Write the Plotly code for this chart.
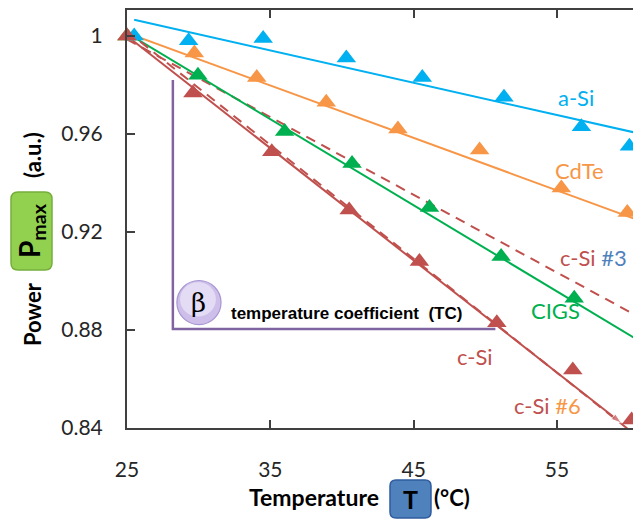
import plotly.graph_objects as go

# ---- measured module output vs. temperature (normalised Pmax) ----
T_asi = [25.5, 29.3, 34.5, 40.3, 45.6, 51.3, 56.7, 60.05]
P_asi = [1.000, 0.998, 0.999, 0.991, 0.983, 0.975, 0.963, 0.955]

T_cdte = [25.0, 29.7, 34.05, 38.9, 43.9, 49.6, 55.3, 59.9]
P_cdte = [1.000, 0.993, 0.983, 0.973, 0.962, 0.9535, 0.938, 0.928]

T_cigs = [25.0, 29.95, 36.0, 40.7, 46.1, 51.1, 56.2]
P_cigs = [1.000, 0.984, 0.961, 0.948, 0.930, 0.910, 0.893]

T_csi = [25.0, 29.6, 35.1, 40.5, 45.4, 50.8, 56.1, 60.2]
P_csi = [1.000, 0.9767, 0.9527, 0.929, 0.908, 0.883, 0.8637, 0.8433]

# ---- linear trend lines (end points) ----
fit_asi_T, fit_asi_P = [25.5, 60.5], [1.0066, 0.9605]
fit_cdte_T, fit_cdte_P = [25.0, 60.5], [1.0012, 0.9252]
fit_cigs_T, fit_cigs_P = [25.0, 60.5], [1.0012, 0.8764]
fit_csi_T, fit_csi_P = [25.0, 59.5], [1.000, 0.842]
fit_csi3_T, fit_csi3_P = [25.0, 60.5], [0.9986, 0.886]
fit_csi6_T, fit_csi6_P = [25.0, 60.5], [1.002, 0.837]

# temperature-coefficient bracket
tc_T = [28.2, 28.2, 50.7]
tc_P = [0.982, 0.8804, 0.8804]

x_ticks = [25, 35, 45, 55]
y_ticks = [0.84, 0.88, 0.92, 0.96, 1.0]
y_tick_text = ["0.84", "0.88", "0.92", "0.96", "1"]

C_ASI = "#00B0F0"
C_CDTE = "#F79646"
C_CIGS = "#00B050"
C_CSI = "#C0504D"
C_BLUE = "#4F81BD"
C_PURPLE = "#8064A2"
AXIS = "#404040"

W, H = 633, 520
ML, MR, MT, MB = 127, 0, 10, 92
PW, PH = W - ML - MR, H - MT - MB


def px(x):
    return (x - ML) / PW


def py(y):
    return (H - MB - y) / PH


def rounded_rect(x0, y0, x1, y1, r):
    """Rounded rectangle path in paper units from pixel corners."""
    X0, X1 = px(x0), px(x1)
    Y0, Y1 = py(y1), py(y0)  # Y0 bottom, Y1 top
    rx, ry = r / PW, r / PH
    return (f"M{X0+rx},{Y0} L{X1-rx},{Y0} Q{X1},{Y0} {X1},{Y0+ry} "
            f"L{X1},{Y1-ry} Q{X1},{Y1} {X1-rx},{Y1} L{X0+rx},{Y1} "
            f"Q{X0},{Y1} {X0},{Y1-ry} L{X0},{Y0+ry} Q{X0},{Y0} {X0+rx},{Y0} Z")


fig = go.Figure()

# trend lines
fig.add_trace(go.Scatter(x=fit_asi_T, y=fit_asi_P, mode="lines",
                         line=dict(color=C_ASI, width=2)))
fig.add_trace(go.Scatter(x=fit_cdte_T, y=fit_cdte_P, mode="lines",
                         line=dict(color=C_CDTE, width=2)))
fig.add_trace(go.Scatter(x=fit_csi3_T, y=fit_csi3_P, mode="lines",
                         line=dict(color=C_CSI, width=2, dash="10px,7px")))
fig.add_trace(go.Scatter(x=fit_cigs_T, y=fit_cigs_P, mode="lines",
                         line=dict(color=C_CIGS, width=2)))
fig.add_trace(go.Scatter(x=fit_csi6_T, y=fit_csi6_P, mode="lines",
                         line=dict(color=C_CSI, width=2, dash="10px,7px")))
fig.add_trace(go.Scatter(x=fit_csi_T, y=fit_csi_P, mode="lines+markers",
                         line=dict(color=C_CSI, width=2),
                         marker=dict(symbol="arrow", angleref="previous",
                                     size=[0, 11], color=C_CSI),
                         cliponaxis=False))

# temperature coefficient bracket
fig.add_trace(go.Scatter(x=tc_T, y=tc_P, mode="lines",
                         line=dict(color=C_PURPLE, width=2.5)))

# measured points
for T, P, c in [(T_cigs, P_cigs, C_CIGS), (T_cdte, P_cdte, C_CDTE),
                (T_asi, P_asi, C_ASI), (T_csi, P_csi, C_CSI)]:
    fig.add_trace(go.Scatter(x=T, y=P, mode="markers", cliponaxis=False,
                             marker=dict(symbol="triangle-up", size=17,
                                         color=c, line=dict(width=0))))

lab_font = "Lato, Open Sans, sans-serif"
ann = []


def label(x, y, text, color, size=22, xanchor="center"):
    ann.append(dict(x=x, y=y, xref="x", yref="y", text=text, showarrow=False,
                    xanchor=xanchor, yanchor="middle",
                    font=dict(family=lab_font, size=size, color=color)))


def paper_text(x, y, text, size, angle=0):
    ann.append(dict(x=px(x), y=py(y), xref="paper", yref="paper",
                    text=text, textangle=angle, showarrow=False,
                    xanchor="center", yanchor="middle",
                    font=dict(family=lab_font, size=size, color="black")))


label(56.3, 0.9747, "a-Si", C_ASI)
label(56.6, 0.9453, "CdTe", C_CDTE)
label(55.1, 0.9094, f"c-Si <span style='color:{C_BLUE}'>#3</span>", C_CSI,
      xanchor="left")
label(54.9, 0.8878, "CIGS", C_CIGS)
label(49.25, 0.869, "c-Si", C_CSI)
label(54.35, 0.849, f"c-Si <span style='color:{C_CDTE}'>#6</span>", C_CSI)

# beta badge + text
ann.append(dict(x=30.02, y=0.8912, xref="x", yref="y", text="β",
                showarrow=False, xanchor="center", yanchor="middle",
                font=dict(family="DejaVu Serif", size=26, color="black")))
ann.append(dict(x=32.1, y=0.8868, xref="x", yref="y",
                text="<b>temperature coefficient  (TC)</b>", showarrow=False,
                xanchor="left", yanchor="middle",
                font=dict(family="Liberation Sans, Arial", size=17,
                          color="black")))

# y axis title pieces
paper_text(32, 314, "<b>Power</b>", 22, -90)
paper_text(31, 231, "<b>P<sub>max</sub></b>", 28, -90)
paper_text(32, 155, "<b>(a.u.)</b>", 22, -90)

# x axis title pieces
paper_text(314, 497, "<b>Temperature</b>", 23)
paper_text(410, 499, "<b>T</b>", 25)
paper_text(452, 497, "<b>(°C)</b>", 22)

shapes = [
    # green Pmax box
    dict(type="path", xref="paper", yref="paper",
         path=rounded_rect(11, 192, 52, 270, 7),
         fillcolor="#92D050", line=dict(color="#76AE3C", width=1.5),
         layer="below"),
    # blue T box
    dict(type="path", xref="paper", yref="paper",
         path=rounded_rect(390, 480, 431, 518, 6),
         fillcolor="#4F81BD", line=dict(color="#2F5C9E", width=1.5),
         layer="below"),
    # beta badge
    dict(type="circle", xref="x", yref="y",
         x0=28.48, x1=31.56, y0=0.8822, y1=0.9002,
         fillcolor="#CDBFEA", line=dict(color="#A996D2", width=1.2)),
    dict(type="circle", xref="x", yref="y",
         x0=28.7, x1=31.2, y0=0.8855, y1=0.8995,
         fillcolor="#E4DCF4", line=dict(width=0)),
]

fig.update_layout(
    width=W, height=H,
    margin=dict(l=ML, r=MR, t=MT, b=MB),
    paper_bgcolor="white", plot_bgcolor="white",
    showlegend=False,
    annotations=ann, shapes=shapes,
    xaxis=dict(range=[25, 60.3], tickvals=x_ticks, ticks="inside", ticklen=8,
               tickwidth=1.5, tickcolor=AXIS, showline=True, linecolor=AXIS,
               linewidth=2, mirror="ticks", showgrid=False, zeroline=False,
               ticklabelstandoff=22,
               tickfont=dict(family=lab_font, size=21, color="#262626")),
    yaxis=dict(range=[0.84, 1.0106], tickvals=y_ticks, ticktext=y_tick_text,
               ticks="inside", ticklen=8, tickwidth=1.5, tickcolor=AXIS,
               showline=True, linecolor=AXIS, linewidth=2, showgrid=False,
               zeroline=False, ticklabelstandoff=18,
               tickfont=dict(family=lab_font, size=21, color="#262626")),
)

fig.write_html("out.html")
